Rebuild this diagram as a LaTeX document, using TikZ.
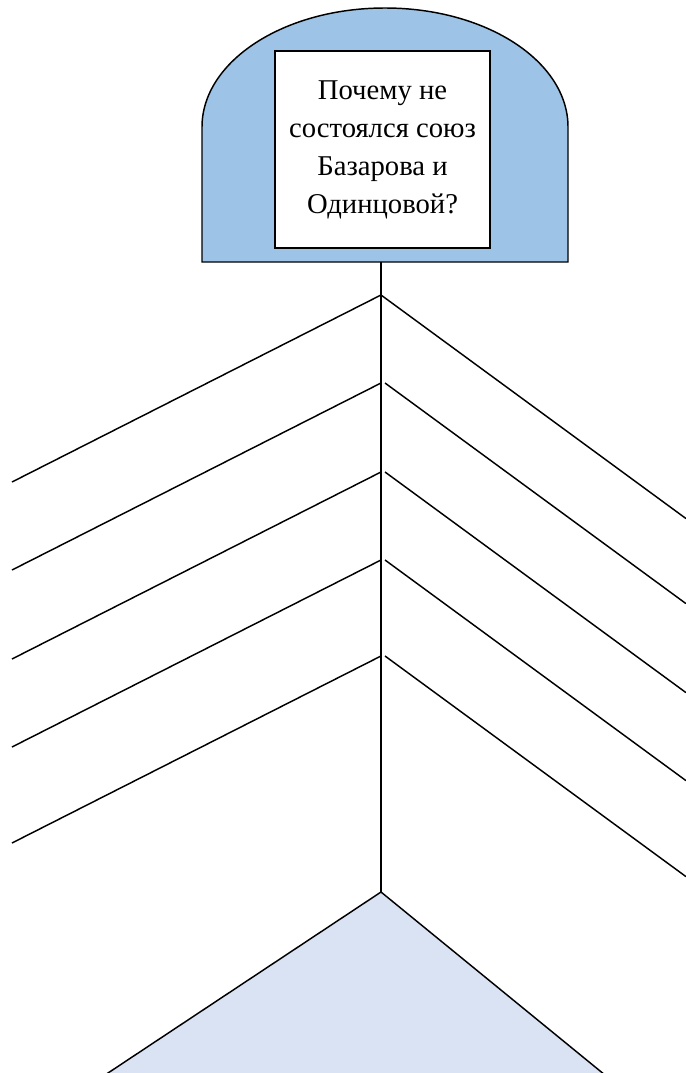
\documentclass[tikz,border=0pt]{standalone}
\usepackage{fontspec}
\setmainfont{Liberation Serif}
\usetikzlibrary{positioning}
\usepackage{xcolor}
\definecolor{headblue}{HTML}{9DC3E6}
\definecolor{tailblue}{HTML}{DAE3F3}
\tikzset{bone/.style={line width=1.1pt}}
\def\spinex{381}

\begin{document}
\begin{tikzpicture}[
	x=0.75pt, y=-0.75pt,
	qbox/.style={draw, line width=1.1pt, fill=white, align=center, minimum width=161pt, minimum height=148pt, inner sep=2pt, font=\fontsize{21.5}{28.5}\selectfont},
	]
	\useasboundingbox (0,0) rectangle (685,1073);
	
	% Head
	\draw[bone, fill=headblue] (202,262) -- (202,127) arc[start angle=180, end angle=360, x radius=183, y radius=119] -- (568,262) -- cycle;
	\node[qbox] (question) at (382.5,149.5) {Почему не\\состоялся союз\\Базарова и\\Одинцовой?};
	
	% Spine
	\coordinate (head) at (\spinex,262);
	\coordinate (apex) at (\spinex,892);
	\draw[bone] (head) -- (apex);
	
	% Bones
	\foreach \y/\rx [count=\i] in {295/381,383/385,472/385,560/385,656/385}{
		\coordinate (sl\i) at (\spinex,\y);
		\coordinate (sr\i) at (\rx,\y);
		\coordinate (l\i) at (12,\y+187);
		\coordinate (r\i) at (686,{\y+0.733*(686-\rx)});
		\draw[bone] (sl\i) -- (l\i);
		\draw[bone] (sr\i) -- (r\i);
	}
	
	% Tail
	\coordinate (tl) at (105,1075);
	\coordinate (tr) at (605,1075);
	\fill[tailblue] (apex) -- (tl) -- (tr) -- cycle;
	\draw[bone] (tl) -- (apex) -- (tr);
	
\end{tikzpicture}
\end{document}
